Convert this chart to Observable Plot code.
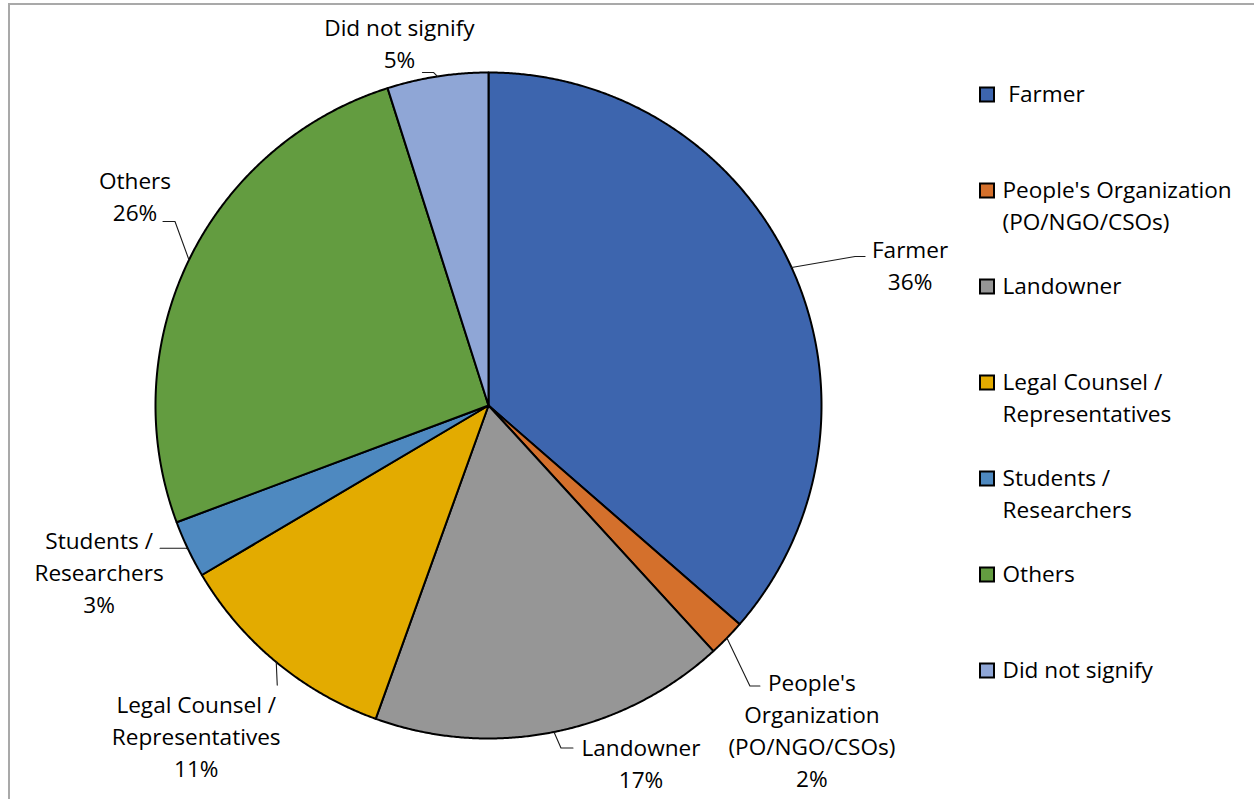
<!DOCTYPE html>
<html><head><meta charset="utf-8">
<script src="https://cdn.jsdelivr.net/npm/d3@7"></script>
<script src="https://cdn.jsdelivr.net/npm/@observablehq/plot@0.6"></script>
<style>
html,body{margin:0;padding:0;background:#fff;}
#wrap{position:relative;width:1254px;height:799px;overflow:hidden;}
#frame{position:absolute;left:8px;top:3px;width:1400px;height:1000px;border-top:2px solid #a9a9a9;border-left:2px solid #a9a9a9;}
#chart{position:absolute;left:0;top:0;}
</style></head><body>
<div id="wrap"><div id="frame"></div><div id="chart"></div></div>
<script>
// ---- data ----
const categories = ["Farmer", "People's Organization (PO/NGO/CSOs)", "Landowner", "Legal Counsel / Representatives", "Students / Researchers", "Others", "Did not signify"];
const values = [36.4, 1.8, 17.3, 11.0, 2.8, 25.8, 4.9];
const sliceLabels = ["Farmer", "People's\nOrganization\n(PO/NGO/CSOs)", "Landowner", "Legal Counsel /\nRepresentatives", "Students /\nResearchers", "Others", "Did not signify"];
const legendLabels = ["\u00a0Farmer", "People's Organization\n(PO/NGO/CSOs)", "Landowner", "Legal Counsel /\nRepresentatives", "Students /\nResearchers", "Others", "Did not signify"];
const colors = ["#3D65AE", "#D4702C", "#969696", "#E3AB00", "#4E89C0", "#639C40", "#8FA6D6"];

// ---- layout (pixels) ----
const pie = {cx: 488, cy: 405, r: 333};
// offsets relative to the slice's outer mid-point
const labelLayout = [
  {elbow: [63.5, -11], end: [73.5, -11], label: [118.5, -4]},
  {elbow: [23, 48], end: [33, 48], label: [85, 91]},
  {elbow: [7, 16], end: [19, 16], label: [87, 30]},
  {elbow: [1, 23], end: [1, 23], label: [-80, 73]},
  {elbow: [-2, -1], end: [-28, -1], label: [-89, 22]},
  {elbow: [-14, -38.5], end: [-26, -38.5], label: [-54, -65]},
  {elbow: [-4, -4], end: [-15, -4], label: [-38, -35]}
];
const legend = {xSq: 987, ySq: 94.5, step: 96, side: 14, xText: 1002, lineStep: 32};
const FONT = "Open Sans";
const FS = 22.6;

// ---- derived geometry ----
const total = d3.sum(values);
const arcs = d3.pie().sort(null).value(d => d)(values);
const pt = a => ({x: pie.cx + pie.r * Math.sin(a), y: pie.cy - pie.r * Math.cos(a)});

const slicePts = [];
arcs.forEach((a, i) => {
  slicePts.push({k: i, x: pie.cx, y: pie.cy, fill: colors[i]});
  const n = Math.max(2, Math.ceil((a.endAngle - a.startAngle) / 0.005));
  for (let j = 0; j <= n; j++) {
    const ang = a.startAngle + (a.endAngle - a.startAngle) * j / n;
    slicePts.push({k: i, ...pt(ang), fill: colors[i]});
  }
  slicePts.push({k: i, x: pie.cx, y: pie.cy, fill: colors[i]});
});

const leaderPts = [];
const labelData = [];
arcs.forEach((a, i) => {
  const m = pt((a.startAngle + a.endAngle) / 2);
  const L = labelLayout[i];
  leaderPts.push({k: i, x: m.x, y: m.y});
  leaderPts.push({k: i, x: m.x + L.elbow[0], y: m.y + L.elbow[1]});
  leaderPts.push({k: i, x: m.x + L.end[0], y: m.y + L.end[1]});
  const pct = Math.round(values[i] / total * 100) + "%";
  labelData.push({x: m.x + L.label[0], y: m.y + L.label[1], text: sliceLabels[i] + "\n" + pct});
});

const legendSq = categories.map((c, i) => ({
  x1: legend.xSq - legend.side / 2, x2: legend.xSq + legend.side / 2,
  y1: legend.ySq + i * legend.step - legend.side / 2, y2: legend.ySq + i * legend.step + legend.side / 2,
  fill: colors[i]
}));
const legendText = legendLabels.flatMap((t, i) => t.split("\n").map((line, j) => ({
  x: legend.xText, y: legend.ySq + i * legend.step + j * legend.lineStep, text: line
})));

const chart = Plot.plot({
  width: 1254, height: 799,
  marginTop: 0, marginRight: 0, marginBottom: 0, marginLeft: 0,
  x: {domain: [0, 1254], range: [0, 1254], axis: null},
  y: {domain: [0, 799], range: [0, 799], axis: null},
  color: {type: "identity"},
  style: {background: "transparent", fontFamily: FONT, fontSize: FS + "px", overflow: "visible"},
  marks: [
    Plot.line(slicePts, {x: "x", y: "y", z: "k", fill: "fill", stroke: "#000", strokeWidth: 2, strokeLinejoin: "round", curve: "linear"}),
    Plot.line(leaderPts, {x: "x", y: "y", z: "k", stroke: "#1a1a1a", strokeWidth: 1.1, curve: "linear"}),
    Plot.text(labelData, {x: "x", y: "y", text: "text", fontSize: FS, fontFamily: FONT, lineHeight: 32 / FS, lineAnchor: "middle", textAnchor: "middle", fill: "#000"}),
    Plot.rect(legendSq, {x1: "x1", x2: "x2", y1: "y1", y2: "y2", fill: "fill", stroke: "#000", strokeWidth: 2}),
    Plot.text(legendText, {x: "x", y: "y", text: "text", fontSize: FS, fontFamily: FONT, lineAnchor: "middle", textAnchor: "start", fill: "#000"})
  ]
});
document.getElementById("chart").appendChild(chart);
</script>
</body></html>
